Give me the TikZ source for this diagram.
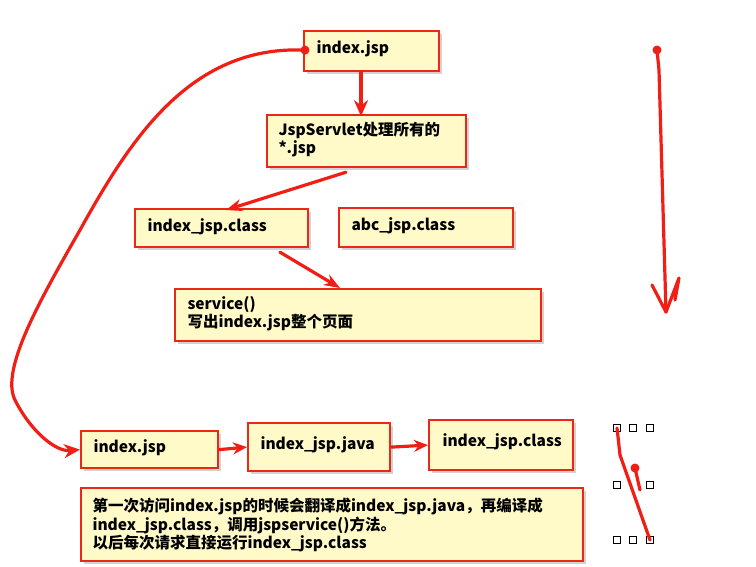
\documentclass[tikz,border=0pt]{standalone}
\usepackage{fontspec}
\setmainfont{Noto Sans CJK SC}
\usetikzlibrary{shadows,arrows.meta}
\definecolor{boxfill}{RGB}{255,250,200}
\definecolor{boxline}{RGB}{235,40,20}
\definecolor{pen}{RGB}{240,30,20}
\tikzset{
  note/.style={draw=boxline,line width=2.2pt,fill=boxfill,anchor=north west,inner sep=0pt,
    drop shadow={shadow xshift=3pt,shadow yshift=-3pt,fill=black!35}},
  label/.style={anchor=west,font=\bfseries\fontsize{15.5}{18}\selectfont,align=left},
  stroke/.style={pen,line width=3.2pt,line cap=round,line join=round},
  handle/.style={draw=black,fill=white,line width=0.8pt,minimum size=7pt,inner sep=0pt}
}
\begin{document}
\begin{tikzpicture}[x=1pt,y=-1pt]
\useasboundingbox (0,0) rectangle (756,566);
% boxes
\node[note,minimum width=135pt,minimum height=40pt] (top) at (303,30) {};
\node[label] at (313,49) {index.jsp};
\node[note,minimum width=199pt,minimum height=52pt] (srv) at (266,114) {};
\node[label] at (275,140) {JspServlet处理所有的\\*.jsp};
\node[note,minimum width=173pt,minimum height=38pt] (cls) at (134,208) {};
\node[label] at (144,227) {index\_jsp.class};
\node[note,minimum width=174pt,minimum height=39pt] (abc) at (338,207) {};
\node[label] at (348,226) {abc\_jsp.class};
\node[note,minimum width=366pt,minimum height=52pt] (svc) at (174,288) {};
\node[label] at (184,314) {service()\\写出index.jsp整个页面};
\node[note,minimum width=137pt,minimum height=37pt] (ijsp) at (80,430) {};
\node[label] at (90,448) {index.jsp};
\node[note,minimum width=142pt,minimum height=48pt] (java) at (247,422) {};
\node[label] at (257,445) {index\_jsp.java};
\node[note,minimum width=144pt,minimum height=50pt] (bcls) at (428,419) {};
\node[label] at (439,442) {index\_jsp.class};
\node[note,minimum width=502pt,minimum height=73pt] (memo) at (80,487) {};
\node[label,font=\bfseries\fontsize{15.5}{18.5}\selectfont] at (89,525)
  {第一次访问index.jsp的时候会翻译成index\_jsp.java，再编译成\\index\_jsp.class，调用jspservice()方法。\\以后每次请求直接运行index\_jsp.class};
% connectors
\draw[stroke,-{Stealth[length=16pt,width=14pt]}] (top.south west) ++(58,0) -- ++(0,44);
\draw[stroke,-{Stealth[length=16pt,width=12pt]}] (srv.south west) ++(80,4) -- (226,210);
\draw[stroke,-{Stealth[length=16pt,width=12pt]}] (cls.south west) ++(146,4) -- (340,288);
\fill[pen] (top.west) ++(2,-1) circle (4.5pt);
\draw[stroke,-{Stealth[length=16pt,width=14pt]}] (top.west) ++(2,-1)
  .. controls (190,45) and (130,140) .. (80,230)
  .. controls (40,300) and (0,370) .. (15,400)
  .. controls (30,430) and (55,452) .. (ijsp.west);
\draw[stroke,-{Stealth[length=14pt,width=12pt]}] (ijsp.east) -- (java.west);
\draw[stroke,-{Stealth[length=14pt,width=12pt]}] (java.east) -- (bcls.west);
% right hand strokes
\coordinate (r0) at (657,50);
\coordinate (r1) at (666,312);
\fill[pen] (r0) circle (4.5pt);
\draw[stroke] (r0) -- (659,70) -- (r1);
\draw[stroke] (652,285) -- (r1) -- (679,278) -- (675,300);
% selection
\foreach \p [count=\i] in {(617,428),(633,428),(650,428),(617,485),(650,485),(617,540),(633,540),(650,540)}
  \node[handle] (h\i) at \p {};
\draw[stroke] (h1.center) -- (620,455) -- (h8.center);
\fill[pen] (635,468) circle (4.5pt);
\draw[stroke] (635,468) -- (640,490);
\end{tikzpicture}
\end{document}
